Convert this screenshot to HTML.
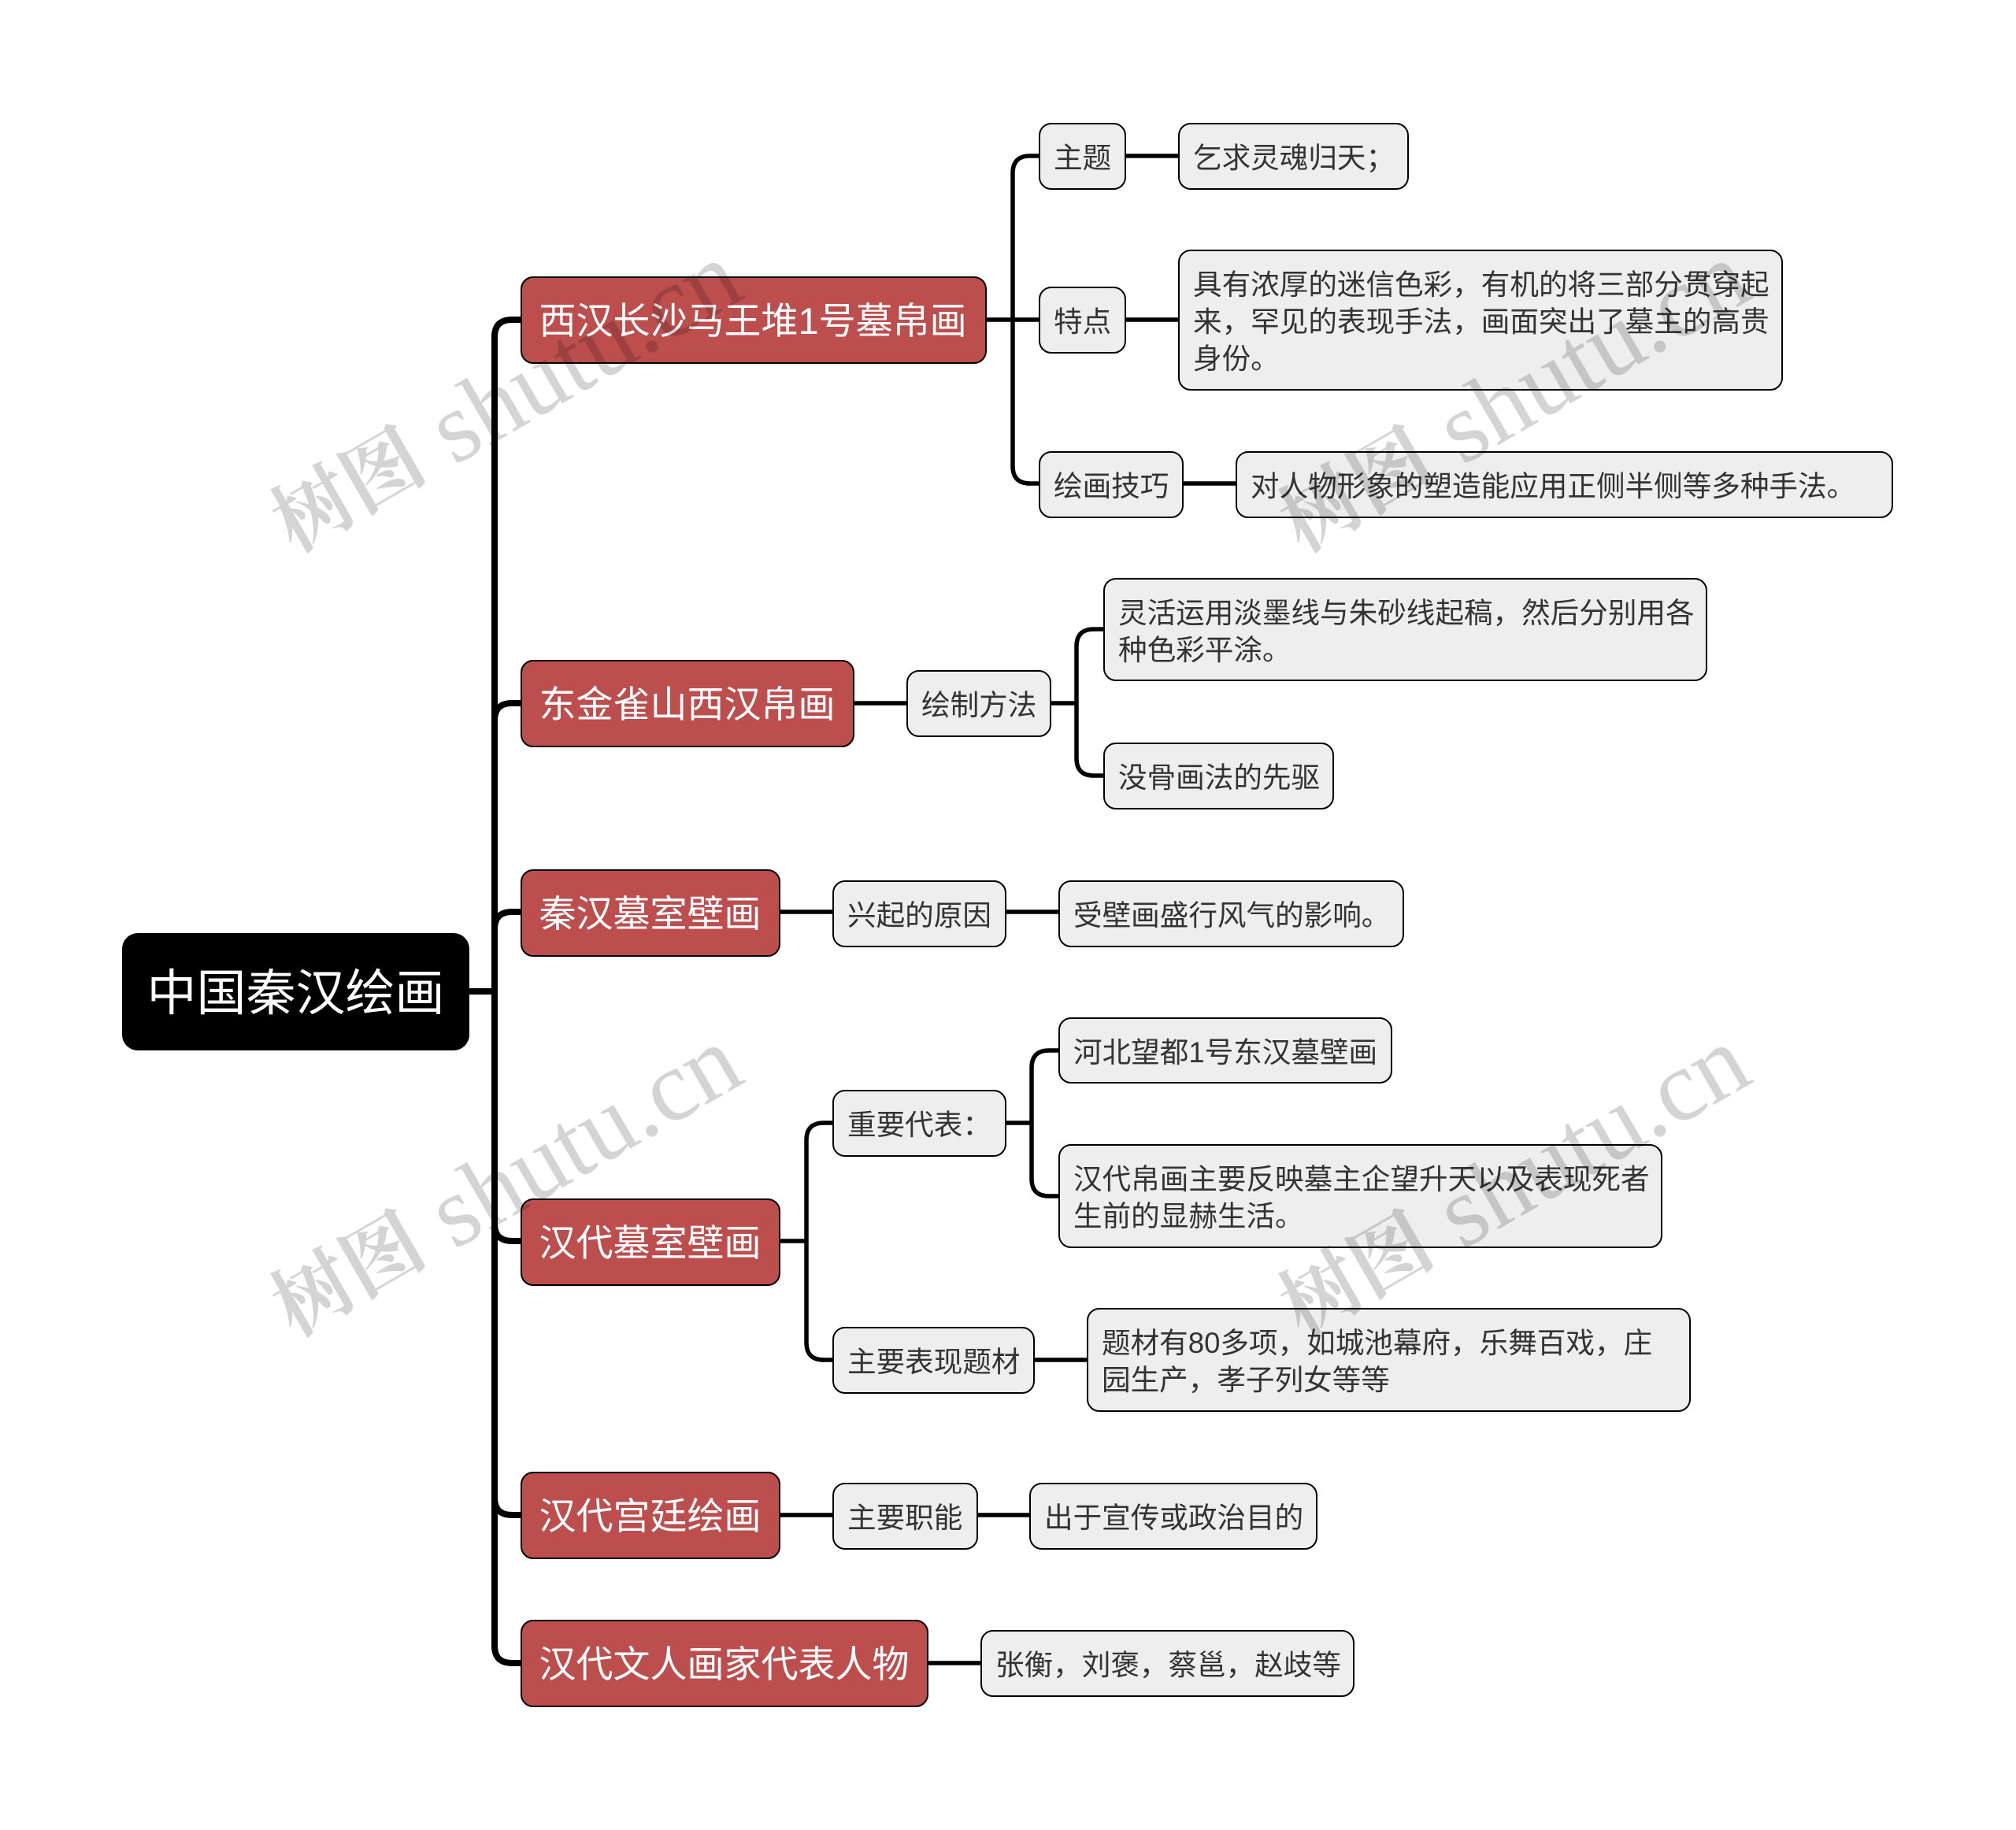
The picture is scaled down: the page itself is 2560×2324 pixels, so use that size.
<!DOCTYPE html>
<html lang="zh">
<head>
<meta charset="utf-8">
<title>中国秦汉绘画</title>
<style>
html,body{margin:0;padding:0;background:#fff}
body{position:relative;width:2560px;height:2324px;overflow:hidden;font-family:"Liberation Sans","Noto Sans CJK SC",sans-serif}
.n{position:absolute;box-sizing:border-box;display:flex;align-items:center;white-space:nowrap;border:2.6px solid #000}
.r{background:#000;color:#fff;font-size:63px;border-radius:20px;justify-content:center;border:0;padding-bottom:7px}
.a{background:#bc4e4e;color:#fff;font-size:47px;border-radius:16px;padding-left:21.5px;padding-top:3px;line-height:54px}
.b{background:#eee;color:#333;font-size:36.6px;border-radius:16px;padding-left:17px;padding-top:6px;line-height:46.7px}
svg{position:absolute;left:0;top:0}
.c{font-size:100px;font-weight:700}
.l{font-size:128px}
</style>
</head>
<body>
<svg width="2560" height="2324" fill="none" stroke="#000" stroke-linecap="butt">
<g stroke-width="8">
<path d="M595 1259H628"/>
<path d="M628 1259V428Q628 406 650 406H665"/>
<path d="M628 1259V915Q628 893 650 893H665"/>
<path d="M628 1259V1180Q628 1158 650 1158H665"/>
<path d="M628 1259V1554Q628 1576 650 1576H665"/>
<path d="M628 1259V1902Q628 1924 650 1924H665"/>
<path d="M628 1259V2090Q628 2112 650 2112H665"/>
</g>
<g stroke-width="5.5">
<path d="M1252 406H1319"/>
<path d="M1286 406V220Q1286 198 1308 198H1320"/>
<path d="M1286 406V592Q1286 614 1308 614H1320"/>
<path d="M1429 198H1497"/>
<path d="M1429 406H1497"/>
<path d="M1502 614H1569"/>
<path d="M1084 893H1151"/>
<path d="M1334 893H1367"/>
<path d="M1367 893V821Q1367 799 1389 799H1402"/>
<path d="M1367 893V963Q1367 985 1389 985H1402"/>
<path d="M989 1158H1058"/>
<path d="M1277 1158H1344"/>
<path d="M989 1576H1024"/>
<path d="M1024 1576V1448Q1024 1426 1046 1426H1058"/>
<path d="M1024 1576V1705Q1024 1727 1046 1727H1058"/>
<path d="M1277 1426H1310"/>
<path d="M1310 1426V1356Q1310 1334 1332 1334H1344"/>
<path d="M1310 1426V1497Q1310 1519 1332 1519H1344"/>
<path d="M1313 1727H1380"/>
<path d="M989 1924H1058"/>
<path d="M1241 1924H1308"/>
<path d="M1177 2112H1246"/>
</g>
</svg>

<div class="n r" style="left:155px;top:1185px;width:441px;height:149px">中国秦汉绘画</div>

<div class="n a" style="left:661px;top:351px;width:592px;height:111px">西汉长沙马王堆1号墓帛画</div>
<div class="n a" style="left:661px;top:838px;width:424px;height:111px">东金雀山西汉帛画</div>
<div class="n a" style="left:661px;top:1104px;width:330px;height:111px">秦汉墓室壁画</div>
<div class="n a" style="left:661px;top:1522px;width:330px;height:111px">汉代墓室壁画</div>
<div class="n a" style="left:661px;top:1869px;width:330px;height:111px">汉代宫廷绘画</div>
<div class="n a" style="left:661px;top:2057px;width:518px;height:111px">汉代文人画家代表人物</div>

<div class="n b" style="left:1319px;top:156px;width:111px;height:85px">主题</div>
<div class="n b" style="left:1496px;top:156px;width:293px;height:85px">乞求灵魂归天；</div>
<div class="n b" style="left:1319px;top:364px;width:111px;height:85px">特点</div>
<div class="n b" style="left:1496px;top:317px;width:768px;height:179px">具有浓厚的迷信色彩，有机的将三部分贯穿起<br>来，罕见的表现手法，画面突出了墓主的高贵<br>身份。</div>
<div class="n b" style="left:1319px;top:573px;width:184px;height:85px">绘画技巧</div>
<div class="n b" style="left:1569px;top:573px;width:835px;height:85px">对人物形象的塑造能应用正侧半侧等多种手法。</div>

<div class="n b" style="left:1151px;top:851px;width:184px;height:85px">绘制方法</div>
<div class="n b" style="left:1401px;top:734px;width:767px;height:131px">灵活运用淡墨线与朱砂线起稿，然后分别用各<br>种色彩平涂。</div>
<div class="n b" style="left:1401px;top:943px;width:293px;height:85px">没骨画法的先驱</div>

<div class="n b" style="left:1057px;top:1118px;width:221px;height:85px">兴起的原因</div>
<div class="n b" style="left:1344px;top:1118px;width:439px;height:85px">受壁画盛行风气的影响。</div>

<div class="n b" style="left:1057px;top:1384px;width:221px;height:85px">重要代表：</div>
<div class="n b" style="left:1344px;top:1292px;width:424px;height:84px">河北望都1号东汉墓壁画</div>
<div class="n b" style="left:1344px;top:1453px;width:767px;height:132px">汉代帛画主要反映墓主企望升天以及表现死者<br>生前的显赫生活。</div>

<div class="n b" style="left:1057px;top:1685px;width:257px;height:85px">主要表现题材</div>
<div class="n b" style="left:1380px;top:1661px;width:767px;height:132px">题材有80多项，如城池幕府，乐舞百戏，庄<br>园生产，孝子列女等等</div>

<div class="n b" style="left:1057px;top:1883px;width:185px;height:85px">主要职能</div>
<div class="n b" style="left:1307px;top:1883px;width:366px;height:85px">出于宣传或政治目的</div>

<div class="n b" style="left:1245px;top:2070px;width:475px;height:85px">张衡，刘褒，蔡邕，赵歧等</div>

<svg width="2560" height="2324" fill="#000" fill-opacity="0.17" font-family="'Liberation Serif','Noto Serif CJK SC',serif" text-anchor="middle">
<text transform="translate(648 517) rotate(-30)" dominant-baseline="middle"><tspan class="c">树图</tspan><tspan class="l"> shutu.cn</tspan></text>
<text transform="translate(1928 517) rotate(-30)" dominant-baseline="middle"><tspan class="c">树图</tspan><tspan class="l"> shutu.cn</tspan></text>
<text transform="translate(648 1513) rotate(-30)" dominant-baseline="middle"><tspan class="c">树图</tspan><tspan class="l"> shutu.cn</tspan></text>
<text transform="translate(1928 1513) rotate(-30)" dominant-baseline="middle"><tspan class="c">树图</tspan><tspan class="l"> shutu.cn</tspan></text>
</svg>
</body>
</html>
